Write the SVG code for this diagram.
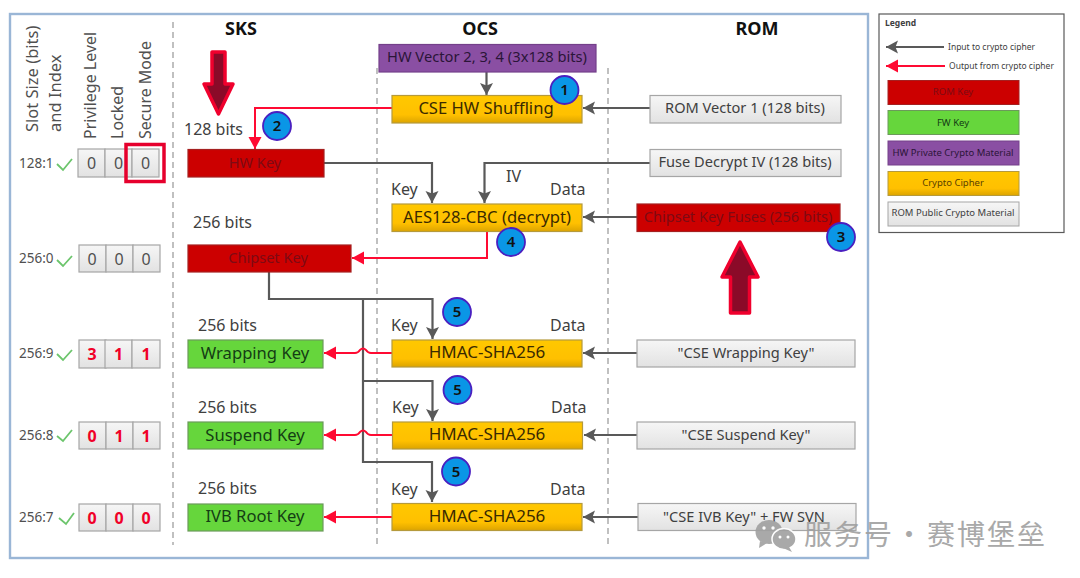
<svg xmlns="http://www.w3.org/2000/svg" width="1080" height="578" viewBox="0 0 1080 578">
<style>
text{font-family:"Noto Sans","Open Sans",sans-serif;fill:#404040;font-size:16px}
.m{text-anchor:middle}
.h{font-size:18px;font-weight:700;fill:#111}
.b{stroke-width:1.2}
.red{fill:#cc0000;stroke:#a52020}
.pur{fill:#8a4fa3;stroke:#74408a}
.yel{fill:url(#gy);stroke:#b59a3c}
.gre{fill:#66d63c;stroke:#6b9a5a}
.gry{fill:url(#gg);stroke:#a6a6a6}
.cell{fill:url(#gg);stroke:#a6a6a6;stroke-width:1.2}
.tr{fill:#7d0a14;font-size:14.600px}
.tg{fill:#143d14;font-size:16.600px}
.ty{fill:#3a2a00;font-size:16.600px}
.tw{fill:#404040;font-size:14.600px}
.v{font-size:16px;fill:#505050}
.vr{font-size:16px;font-weight:700;fill:#f00028}
.idx{font-size:13.500px;fill:#505050}
.g{fill:none;stroke:#595959;stroke-width:2.200}
.r{fill:none;stroke:#ff0a32;stroke-width:2}
.ck{fill:none;stroke:#6cc56c;stroke-width:1.800}
.dash{stroke:#a6a6a6;stroke-width:1.400;stroke-dasharray:6 4}
.bad{fill:#0a96e6;stroke:#4a1fc0;stroke-width:1.800}
.bt{font-size:15px;font-weight:600;fill:#111;text-anchor:middle}
.big{fill:#8b0a28;stroke:#f0002d;stroke-width:3.500;stroke-linejoin:round}
.lg{font-size:8.500px;fill:#404040}
.lb{font-size:9.500px}
.wm{font-family:"Noto Sans CJK SC","Noto Sans",sans-serif;font-size:28px;fill:#a0a0a0;letter-spacing:2px}
</style>
<defs>
<linearGradient id="gy" x1="0" y1="0" x2="0" y2="1"><stop offset="0" stop-color="#ffc800"/><stop offset=".7" stop-color="#ffc000"/><stop offset="1" stop-color="#dca400"/></linearGradient>
<linearGradient id="gg" x1="0" y1="0" x2="0" y2="1"><stop offset="0" stop-color="#f6f6f6"/><stop offset="1" stop-color="#e2e2e2"/></linearGradient>
<marker id="ag" markerUnits="userSpaceOnUse" markerWidth="13" markerHeight="14" refX="12" refY="6.500" orient="auto"><path d="M0 0L12 6.500L0 13L2.500 6.500Z" fill="#595959"/></marker>
<marker id="ar" markerUnits="userSpaceOnUse" markerWidth="13" markerHeight="14" refX="12" refY="6.500" orient="auto"><path d="M0 0L12 6.500L0 13Z" fill="#ff0a32"/></marker>
</defs>

<rect id="frame" x="10" y="14" width="858" height="544" fill="#fff" stroke="#9ab6d6" stroke-width="2.400"/>

<g id="dividers">
<line class="dash" x1="173" y1="22" x2="173" y2="545"/>
<line class="dash" x1="377" y1="68" x2="377" y2="545"/>
<line class="dash" x1="608" y1="68" x2="608" y2="545"/>
</g>

<g id="headers">
<text class="h m" x="241" y="35">SKS</text>
<text class="h m" x="480" y="35">OCS</text>
<text class="h m" x="757" y="35">ROM</text>
<text class="v" style="font-size:16.500px" transform="translate(38 132) rotate(-90)">Slot Size (bits)</text>
<text class="v" style="font-size:16.500px" transform="translate(61 132) rotate(-90)">and Index</text>
<text class="v" transform="translate(96 139) rotate(-90)">Privilege Level</text>
<text class="v" transform="translate(123 139) rotate(-90)">Locked</text>
<text class="v" transform="translate(151 139) rotate(-90)">Secure Mode</text>
</g>

<g id="connectors">
<path class="g" marker-end="url(#ag)" d="M486.500 72V95"/>
<path class="g" marker-end="url(#ag)" d="M650 108H583"/>
<path class="g" marker-end="url(#ag)" d="M324 163H432V203"/>
<path class="g" marker-end="url(#ag)" d="M650 163H484.500V203"/>
<path class="g" marker-end="url(#ag)" d="M637 217H583"/>
<path class="g" marker-end="url(#ag)" d="M269 272V299H432.500V339"/>
<path class="g" marker-end="url(#ag)" d="M363 299V462H432V502"/>
<path class="g" marker-end="url(#ag)" d="M363 381H432.500V421"/>
<path class="g" marker-end="url(#ag)" d="M637 353H583"/>
<path class="g" marker-end="url(#ag)" d="M637 435H584"/>
<path class="g" marker-end="url(#ag)" d="M638 517H583"/>
<path class="r" marker-end="url(#ar)" d="M392 108H255V149"/>
<path class="r" marker-end="url(#ar)" d="M487 232V258H352"/>
<path class="r" marker-end="url(#ar)" d="M392 353H371Q368 353 366 350Q363 347 360 350Q358 353 355 353H324"/>
<path class="r" marker-end="url(#ar)" d="M392 435H371Q368 435 366 432Q363 429 360 432Q358 435 355 435H324"/>
<path class="r" marker-end="url(#ar)" d="M392 517H324"/>
</g>

<g id="table">
<g id="row-128-1"><text class="idx" x="19" y="168">128:1</text><path class="ck" d="M57 164L63 170L72 159"/>
<rect class="cell" x="78" y="149" width="27" height="28"/><rect class="cell" x="105" y="149" width="27" height="28"/><rect class="cell" x="132" y="149" width="27" height="28"/>
<text class="v m" x="91.500" y="168.500">0</text><text class="v m" x="118.500" y="168.500">0</text><text class="v m" x="145.500" y="168.500">0</text></g>
<rect id="secure-highlight" x="126" y="144.500" width="38" height="37" fill="none" stroke="#e6002d" stroke-width="3.500"/>
<g id="row-256-0"><text class="idx" x="19" y="263">256:0</text><path class="ck" d="M57 260L63 266L72 256"/>
<rect class="cell" x="79" y="245" width="27" height="27"/><rect class="cell" x="106" y="245" width="27" height="27"/><rect class="cell" x="133" y="245" width="27" height="27"/>
<text class="v m" x="92" y="264.500">0</text><text class="v m" x="119" y="264.500">0</text><text class="v m" x="146" y="264.500">0</text></g>
<g id="row-256-9"><text class="idx" x="19" y="358">256:9</text><path class="ck" d="M57 354L63 360L72 350"/>
<rect class="cell" x="79" y="340" width="27" height="28"/><rect class="cell" x="105" y="340" width="27" height="28"/><rect class="cell" x="132" y="340" width="28" height="28"/>
<text class="vr m" x="92" y="359.500">3</text><text class="vr m" x="118.500" y="359.500">1</text><text class="vr m" x="146" y="359.500">1</text></g>
<g id="row-256-8"><text class="idx" x="19" y="440">256:8</text><path class="ck" d="M57 436L63 441L72 430"/>
<rect class="cell" x="79" y="422" width="27" height="27"/><rect class="cell" x="106" y="422" width="27" height="27"/><rect class="cell" x="133" y="422" width="27" height="27"/>
<text class="vr m" x="92" y="441.500">0</text><text class="vr m" x="119" y="441.500">1</text><text class="vr m" x="146" y="441.500">1</text></g>
<g id="row-256-7"><text class="idx" x="19" y="522">256:7</text><path class="ck" d="M59 518L66 524L74 513"/>
<rect class="cell" x="79" y="504" width="27" height="27"/><rect class="cell" x="106" y="504" width="27" height="27"/><rect class="cell" x="133" y="504" width="27" height="27"/>
<text class="vr m" x="92" y="523.500">0</text><text class="vr m" x="119" y="523.500">0</text><text class="vr m" x="146" y="523.500">0</text></g>
</g>

<g id="arrow-down"><path class="big" d="M212 52H225V84H233L218.500 114L204 84H212Z"/></g>
<g id="arrow-up"><path class="big" d="M730.500 313V277H722L740 242L758 277H749.500V313Z"/></g>

<g id="sks-labels">
<text x="184" y="135">128 bits</text>
<text x="193" y="228">256 bits</text>
<text x="198" y="331">256 bits</text>
<text x="198" y="413">256 bits</text>
<text x="198" y="494">256 bits</text>
</g>
<g id="ocs-labels">
<text x="391" y="195">Key</text><text x="506" y="182">IV</text><text x="550" y="195">Data</text>
<text x="391" y="331">Key</text><text x="550" y="331">Data</text>
<text x="392" y="413">Key</text><text x="551" y="413">Data</text>
<text x="391" y="495">Key</text><text x="550" y="495">Data</text>
</g>

<g id="hw-key"><rect class="b red" x="188" y="149.500" width="136" height="27.500"/><text class="tr m" x="255" y="168">HW Key</text></g>
<g id="chipset-key"><rect class="b red" x="188" y="245" width="163" height="27"/><text class="tr m" x="268" y="263">Chipset Key</text></g>
<g id="wrapping-key"><rect class="b gre" x="188" y="340" width="135" height="28"/><text class="tg m" x="255" y="359">Wrapping Key</text></g>
<g id="suspend-key"><rect class="b gre" x="188" y="422" width="135" height="27"/><text class="tg m" x="255" y="441">Suspend Key</text></g>
<g id="ivb-root-key"><rect class="b gre" x="188" y="504" width="135" height="27"/><text class="tg m" x="255" y="522">IVB Root Key</text></g>

<g id="hw-vector"><rect class="b pur" x="379" y="44.500" width="217" height="27.500"/><text class="m" style="font-size:14.700px;fill:#2b1538" x="487" y="62">HW Vector 2, 3, 4 (3x128 bits)</text></g>
<g id="cse-hw-shuffling"><rect class="b yel" x="392" y="95.500" width="190" height="27.500"/><text class="ty m" x="486" y="114">CSE HW Shuffling</text></g>
<g id="aes128"><rect class="b yel" x="392" y="204" width="190" height="27.500"/><text class="ty m" x="487" y="223">AES128-CBC (decrypt)</text></g>
<g id="hmac-1"><rect class="b yel" x="392" y="340" width="190" height="27"/><text class="ty m" style="font-size:17px" x="487" y="358">HMAC-SHA256</text></g>
<g id="hmac-2"><rect class="b yel" x="392.500" y="422" width="190" height="27"/><text class="ty m" style="font-size:17px" x="487" y="440">HMAC-SHA256</text></g>
<g id="hmac-3"><rect class="b yel" x="392" y="503.500" width="190" height="27"/><text class="ty m" style="font-size:17px" x="487" y="522">HMAC-SHA256</text></g>

<g id="rom-vector"><rect class="b gry" x="650" y="95.500" width="191" height="27.500"/><text class="tw m" x="745" y="113">ROM Vector 1 (128 bits)</text></g>
<g id="fuse-iv"><rect class="b gry" x="650" y="149.500" width="191" height="27"/><text class="tw m" x="745" y="167">Fuse Decrypt IV (128 bits)</text></g>
<g id="chipset-fuses"><rect class="b red" x="637" y="204" width="203" height="27.500"/><text class="tr m" x="738" y="222">Chipset Key Fuses (256 bits)</text></g>
<g id="cse-wrapping"><rect class="b gry" x="637" y="340" width="218" height="27"/><text class="tw m" x="746" y="358">"CSE Wrapping Key"</text></g>
<g id="cse-suspend"><rect class="b gry" x="637" y="422" width="218" height="27"/><text class="tw m" x="746" y="440">"CSE Suspend Key"</text></g>
<g id="cse-ivb"><rect class="b gry" x="638" y="503.500" width="218" height="27"/><text class="tw m" x="744" y="522">"CSE IVB Key" + FW SVN</text></g>

<g id="badges">
<g id="badge-1"><circle class="bad" cx="564.500" cy="90" r="14"/><text class="bt" x="564.500" y="95">1</text></g>
<g id="badge-2"><circle class="bad" cx="277" cy="126" r="14"/><text class="bt" x="277" y="131">2</text></g>
<g id="badge-3"><circle class="bad" cx="841" cy="237" r="14"/><text class="bt" x="841" y="242">3</text></g>
<g id="badge-4"><circle class="bad" cx="511" cy="242" r="14"/><text class="bt" x="511" y="247">4</text></g>
<g id="badge-5a"><circle class="bad" cx="457" cy="312" r="14"/><text class="bt" x="457" y="317">5</text></g>
<g id="badge-5b"><circle class="bad" cx="457.500" cy="390" r="14"/><text class="bt" x="457.500" y="395">5</text></g>
<g id="badge-5c"><circle class="bad" cx="456" cy="471.500" r="14"/><text class="bt" x="456" y="476.500">5</text></g>
</g>

<g id="legend">
<rect x="879" y="14" width="185" height="218.500" fill="#fff" stroke="#595959" stroke-width="1.200"/>
<text class="lg" style="font-weight:700" x="885" y="26">Legend</text>
<path class="g" marker-end="url(#ag)" d="M944 47H886"/>
<text class="lg" x="948" y="50">Input to crypto cipher</text>
<path class="r" marker-end="url(#ar)" d="M945 66H886"/>
<text class="lg" x="949" y="69">Output from crypto cipher</text>
<rect class="red" x="888" y="80.500" width="131" height="24"/><text class="lb m" style="fill:#7d0a14" x="953" y="95">ROM Key</text>
<rect class="gre" x="888" y="110.500" width="131" height="24"/><text class="lb m" style="fill:#143d14" x="953" y="126">FW Key</text>
<rect class="pur" x="888" y="141" width="131" height="24"/><text class="lb m" style="fill:#2b1538" x="953" y="156">HW Private Crypto Material</text>
<rect class="yel" x="888" y="171.500" width="131" height="24"/><text class="lb m" style="fill:#5a4000" x="953" y="186">Crypto Cipher</text>
<rect class="gry" x="888" y="202" width="131" height="24"/><text class="lb m" x="953" y="216">ROM Public Crypto Material</text>
</g>

<g id="watermark" opacity=".9">
<ellipse cx="769" cy="532" rx="13.500" ry="12" fill="#a0a0a0"/>
<path d="M760 541L759 548L767 543Z" fill="#a0a0a0"/>
<ellipse cx="784" cy="539" rx="12" ry="10.500" fill="#a0a0a0" stroke="#fff" stroke-width="1.500"/>
<path d="M789 547L792 552L783 548Z" fill="#a0a0a0"/>
<circle cx="764" cy="528" r="1.700" fill="#fff"/><circle cx="773" cy="528" r="1.700" fill="#fff"/>
<circle cx="780" cy="537" r="1.500" fill="#fff"/><circle cx="788" cy="537" r="1.500" fill="#fff"/>
<text class="wm" x="804" y="545">服务号</text>
<text class="wm" x="895" y="545">·</text>
<text class="wm" x="927" y="545">赛博堡垒</text>
</g>
</svg>
